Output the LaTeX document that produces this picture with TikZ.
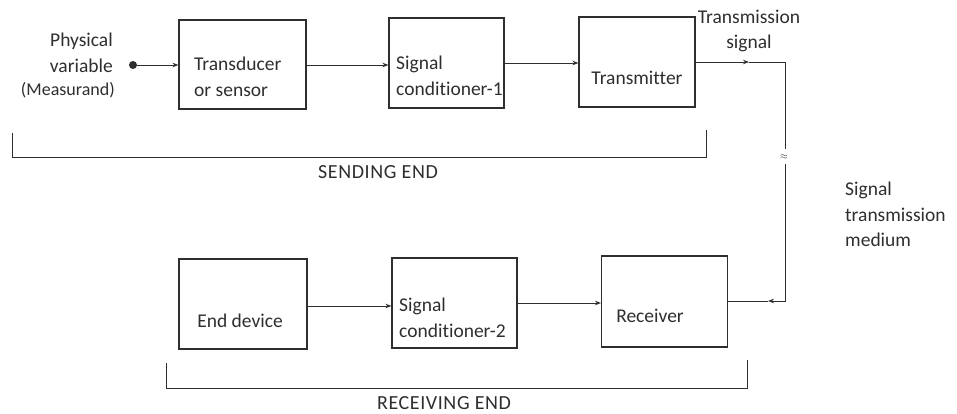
\documentclass[tikz,border=0pt]{standalone}
\usepackage{fontspec}
\setmainfont[Ligatures=NoCommon]{Carlito}
\newfontfamily\capsfont[Ligatures=NoCommon,LetterSpace=3]{Carlito}
\usetikzlibrary{arrows.meta}
\definecolor{ink}{HTML}{2E2E2E}
\tikzset{
  blk/.style={draw=ink, line width=1.1pt, rectangle, inner sep=0pt},
  lbl/.style={text=ink, font=\fontsize{19.5}{25.5}\selectfont, inner sep=0pt, align=left},
  small/.style={text=ink, font=\fontsize{18}{22}\selectfont, inner sep=0pt},
  caps/.style={text=ink, font=\capsfont\fontsize{20}{24}\selectfont, inner sep=0pt},
  wire/.style={draw=ink, line width=0.9pt},
  arr/.style={wire, -{Stealth[length=6pt,width=4.5pt]}},
  brk/.style={draw=ink, line width=0.9pt},
}
\begin{document}
\begin{tikzpicture}[x=1pt,y=-1pt]
\useasboundingbox (0,0) rectangle (957,414);
% boxes
\node[blk, minimum width=127pt, minimum height=89pt] (td) at (242.5,64.5) {};
\node[blk, minimum width=115pt, minimum height=90pt] (sc1) at (446.5,63) {};
\node[blk, minimum width=116pt, minimum height=90pt] (tx) at (637,62) {};
\node[blk, minimum width=128pt, minimum height=90pt] (ed) at (243,304) {};
\node[blk, minimum width=125pt, minimum height=90pt] (sc2) at (454.5,303) {};
\node[blk, minimum width=126pt, minimum height=91pt] (rx) at (664.5,301.5) {};
% box texts
\node[lbl, anchor=west] (tdt) at (194,77) {Transducer\\or sensor};
\node[lbl, anchor=west] (sc1t) at (396,76) {Signal\\conditioner-1};
\node[lbl] (txt) at (637,78) {Transmitter};
\node[lbl] (edt) at (240,321) {End device};
\node[lbl, anchor=west] (sc2t) at (399,318) {Signal\\conditioner-2};
\node[lbl] (rxt) at (650,316) {Receiver};
% input
\node[lbl, align=right, anchor=east] (pv) at (113,53) {Physical\\variable};
\node[small, anchor=east] (ms) at (115,90) {(Measurand)};
\node[circle, fill=ink, inner sep=0pt, minimum size=8pt] (dot) at (133,65) {};
\draw[arr] (dot) -- (dot -| td.west);
\draw[arr] (td.east |- 0,65) -- (sc1.west |- 0,65);
\draw[arr] (sc1.east) -- (sc1.east -| tx.west);
% transmission line
\coordinate (tsm) at (749,62);
\coordinate (c1) at (785,62);
\coordinate (b1) at (785,149);
\coordinate (b2) at (785,164);
\coordinate (c2) at (785,301);
\coordinate (rsm) at (768,301);
\draw[arr] (tx.east |- tsm) -- (tsm);
\draw[wire] (tsm) -- (c1) -- (b1);
\node[text=ink, inner sep=0pt, font=\normalsize] (apx) at (784,157) {$\approx$};
\draw[arr] (b2) -- (c2) -- (rsm);
\draw[wire] (rsm) -- (rx.east |- rsm);
\node[lbl, align=center] (tsl) at (749,31) {Transmission\\signal};
\node[lbl, anchor=north west] (stm) at (845,182) {Signal\\transmission\\medium};
% bottom row arrows
\draw[arr] (ed.east |- 0,306) -- (sc2.west |- 0,306);
\draw[arr] (sc2.east) -- (sc2.east -| rx.west);
% brackets
\draw[brk] (12,133) -- (12,157) -- (706,157) -- (706,130);
\node[caps] (se) at (378,172) {SENDING END};
\draw[brk] (166,363) -- (166,388) -- (747,388) -- (747,360);
\node[caps] (re) at (444,403) {RECEIVING END};
\end{tikzpicture}
\end{document}
